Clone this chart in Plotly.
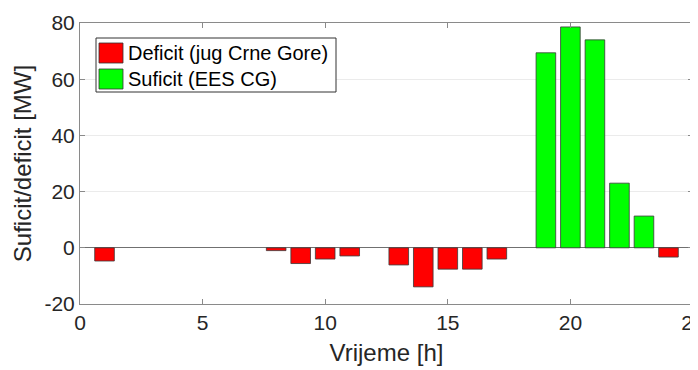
import plotly.graph_objects as go

hours = list(range(1, 25))
deficit = [-4.7, 0, 0, 0, 0, 0, 0, -1.0, -5.6, -4.0, -2.9, 0,
           -6.1, -13.9, -7.6, -7.6, -4.0, 0, 0, 0, 0, 0, 0, -3.3]
suficit = [0, 0, 0, 0, 0, 0, 0, 0, 0, 0, 0, 0,
           0, 0, 0, 0, 0, 0, 69.4, 78.6, 74.0, 23.0, 11.3, 0]
series_names = ["Deficit (jug Crne Gore)", "Suficit (EES CG)"]
series_colors = ["#ff0000", "#00ff00"]
x_ticks = [0, 5, 10, 15, 20, 25]
y_ticks = [-20, 0, 20, 40, 60, 80]

# page geometry (browser body has an 8px default margin)
OFF = 8
W, H = 698, 370
L, R, T, B = 80, 693, 23, 304


def px(x):
    return (x - L) / (R - L)


def py(y):
    return (B - y) / (B - T)


fig = go.Figure()
for name, vals, col in zip(series_names, [deficit, suficit], series_colors):
    fig.add_trace(go.Bar(
        x=hours, y=[v if v != 0 else None for v in vals], name=name, width=0.8,
        marker=dict(color=col, line=dict(color="#3a3a3a", width=0.8)),
        showlegend=False,
    ))

axis_common = dict(
    showline=True, linecolor="#8a8a8a", linewidth=1, mirror="ticks",
    ticks="inside", ticklen=5, tickcolor="#8a8a8a", automargin=False,
    ticklabeloverflow="allow",
    tickfont=dict(family="Liberation Sans, Arial", size=21, color="#262626"),
)

fig.update_layout(
    width=W - OFF, height=H - OFF,
    margin=dict(l=L - OFF, r=W - R, t=T - OFF, b=H - B, autoexpand=False),
    paper_bgcolor="white", plot_bgcolor="white",
    barmode="relative",
    xaxis=dict(range=[0, 25], tickvals=x_ticks, ticktext=[str(v) for v in x_ticks],
               showgrid=False, zeroline=False,
               title=dict(text="Vrijeme [h]", standoff=10,
                          font=dict(family="Liberation Sans, Arial", size=24, color="#262626")),
               **axis_common),
    yaxis=dict(range=[-20, 80], tickvals=y_ticks, ticktext=[str(v) for v in y_ticks],
               showgrid=True, gridcolor="#ebebeb",
               zeroline=True, zerolinecolor="#707070", zerolinewidth=1,
               title=dict(text="Suficit/deficit [MW]", standoff=6,
                          font=dict(family="Liberation Sans, Arial", size=24, color="#262626")),
               **axis_common),
    font=dict(family="Liberation Sans, Arial", color="#262626"),
)

# legend box drawn in paper coordinates
shapes = [dict(type="rect", xref="paper", yref="paper",
               x0=px(96), x1=px(336), y0=py(92), y1=py(38),
               line=dict(color="#333333", width=1), fillcolor="white", layer="above")]
annotations = []
for i, (name, col) in enumerate(zip(series_names, series_colors)):
    top = 43 + i * 26
    shapes.append(dict(type="rect", xref="paper", yref="paper",
                       x0=px(99), x1=px(123), y0=py(top + 20), y1=py(top),
                       line=dict(color="#333333", width=0.8), fillcolor=col, layer="above"))
    annotations.append(dict(xref="paper", yref="paper", x=px(126), y=py(top + 10),
                            text=name, showarrow=False, xanchor="left", yanchor="middle",
                            font=dict(family="Liberation Sans, Arial", size=20, color="#000000")))
fig.update_layout(shapes=shapes, annotations=annotations)

fig.write_html("out.html")
